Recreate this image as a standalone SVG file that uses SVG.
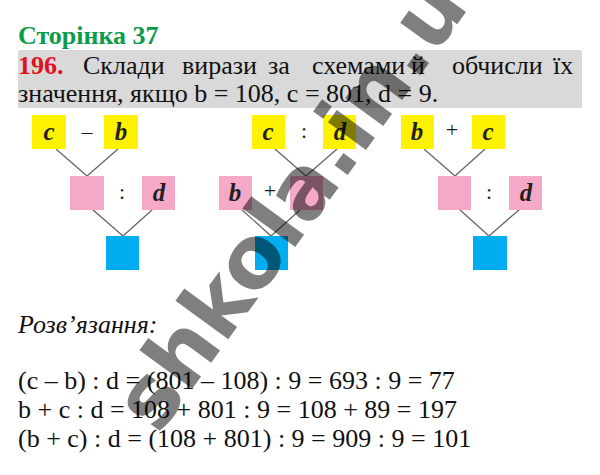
<svg xmlns="http://www.w3.org/2000/svg" width="600" height="475" viewBox="0 0 600 475">
<rect width="600" height="475" fill="#fff"/>
<text x="18" y="44" font-size="26" font-family="Liberation Serif" font-weight="bold" fill="#0c9b4a">Сторінка 37</text>
<rect x="18" y="50" width="564" height="58" fill="#d9d9d9"/>
<text x="18" y="74" font-size="26" font-family="Liberation Serif" font-weight="bold" fill="#e3101e">196.</text>
<text x="83" y="74" font-size="26" font-family="Liberation Serif" fill="#111">Склади</text>
<text x="182" y="74" font-size="26" font-family="Liberation Serif" fill="#111">вирази</text>
<text x="268" y="74" font-size="26" font-family="Liberation Serif" fill="#111">за</text>
<text x="312" y="74" font-size="26" font-family="Liberation Serif" fill="#111">схемами</text>
<text x="411" y="74" font-size="26" font-family="Liberation Serif" fill="#111">й</text>
<text x="452" y="74" font-size="26" font-family="Liberation Serif" fill="#111">обчисли</text>
<text x="553" y="74" font-size="26" font-family="Liberation Serif" fill="#111">їх</text>
<text x="18" y="102" font-size="26" font-family="Liberation Serif" fill="#111">значення, якщо b = 108, c = 801, d = 9.</text>

<g id="connectors" stroke="#666" stroke-width="1.3">
<line x1="56" y1="149" x2="87" y2="176"/><line x1="118" y1="149" x2="87" y2="176"/>
<line x1="92" y1="209" x2="123" y2="236"/><line x1="153" y1="209" x2="123" y2="236"/>
<line x1="275" y1="149" x2="306" y2="176"/><line x1="337" y1="149" x2="306" y2="176"/>
<line x1="241" y1="209" x2="271" y2="236"/><line x1="301" y1="209" x2="271" y2="236"/>
<line x1="424" y1="149" x2="455" y2="176"/><line x1="485" y1="149" x2="455" y2="176"/>
<line x1="459" y1="209" x2="489" y2="236"/><line x1="520" y1="209" x2="489" y2="236"/>
</g>

<g id="d1-c"><rect x="32" y="115" width="34" height="34" fill="#fff200"/><text x="49" y="140" font-size="25" font-family="Liberation Serif" font-style="italic" font-weight="bold" text-anchor="middle" fill="#231f20">c</text></g>
<g id="d1-b"><rect x="104" y="115" width="34" height="34" fill="#fff200"/><text x="121" y="140" font-size="25" font-family="Liberation Serif" font-style="italic" font-weight="bold" text-anchor="middle" fill="#231f20">b</text></g>
<g id="d1-mid"><rect x="70" y="176" width="34" height="34" fill="#f5a9c8"/></g>
<g id="d1-d"><rect x="142" y="176" width="33" height="34" fill="#f5a9c8"/><text x="159" y="201" font-size="25" font-family="Liberation Serif" font-style="italic" font-weight="bold" text-anchor="middle" fill="#231f20">d</text></g>
<g id="d1-res"><rect x="106" y="236" width="33" height="34" fill="#00aeef"/></g>

<g id="d2-c"><rect x="252" y="115" width="33" height="34" fill="#fff200"/><text x="268" y="140" font-size="25" font-family="Liberation Serif" font-style="italic" font-weight="bold" text-anchor="middle" fill="#231f20">c</text></g>
<g id="d2-d"><rect x="323" y="115" width="33" height="34" fill="#fff200"/><text x="340" y="140" font-size="25" font-family="Liberation Serif" font-style="italic" font-weight="bold" text-anchor="middle" fill="#231f20">d</text></g>
<g id="d2-b"><rect x="219" y="176" width="33" height="34" fill="#f5a9c8"/><text x="235" y="201" font-size="25" font-family="Liberation Serif" font-style="italic" font-weight="bold" text-anchor="middle" fill="#231f20">b</text></g>
<g id="d2-mid"><rect x="290" y="176" width="33" height="34" fill="#f5a9c8"/></g>
<g id="d2-res"><rect x="255" y="236" width="33" height="34" fill="#00aeef"/></g>

<g id="d3-b"><rect x="401" y="115" width="33" height="34" fill="#fff200"/><text x="417" y="140" font-size="25" font-family="Liberation Serif" font-style="italic" font-weight="bold" text-anchor="middle" fill="#231f20">b</text></g>
<g id="d3-c"><rect x="472" y="115" width="33" height="34" fill="#fff200"/><text x="488" y="140" font-size="25" font-family="Liberation Serif" font-style="italic" font-weight="bold" text-anchor="middle" fill="#231f20">c</text></g>
<g id="d3-mid"><rect x="438" y="176" width="33" height="34" fill="#f5a9c8"/></g>
<g id="d3-d"><rect x="509" y="176" width="33" height="34" fill="#f5a9c8"/><text x="526" y="201" font-size="25" font-family="Liberation Serif" font-style="italic" font-weight="bold" text-anchor="middle" fill="#231f20">d</text></g>
<g id="d3-res"><rect x="473" y="236" width="34" height="34" fill="#00aeef"/></g>

<text x="87" y="139" font-size="22" font-family="Liberation Serif" text-anchor="middle" fill="#231f20">–</text>
<text x="122" y="199" font-size="22" font-family="Liberation Serif" text-anchor="middle" fill="#231f20">:</text>
<text x="304" y="138" font-size="22" font-family="Liberation Serif" text-anchor="middle" fill="#231f20">:</text>
<text x="270" y="198" font-size="22" font-family="Liberation Serif" text-anchor="middle" fill="#231f20">+</text>
<text x="452" y="137" font-size="22" font-family="Liberation Serif" text-anchor="middle" fill="#231f20">+</text>
<text x="489" y="199" font-size="22" font-family="Liberation Serif" text-anchor="middle" fill="#231f20">:</text>

<text x="18" y="333" font-size="26" font-family="Liberation Serif" font-style="italic" fill="#111">Розв’язання:</text>
<text x="18" y="389" font-size="26" font-family="Liberation Serif" fill="#111">(c – b) : d = (801 – 108) : 9 = 693 : 9 = 77</text>
<text x="18" y="418" font-size="26" font-family="Liberation Serif" fill="#111">b + c : d = 108 + 801 : 9 = 108 + 89 = 197</text>
<text x="18" y="447" font-size="26" font-family="Liberation Serif" fill="#111">(b + c) : d = (108 + 801) : 9 = 909 : 9 = 101</text>
<text transform="translate(158,436) rotate(-54)" font-size="86" font-family="DejaVu Sans" font-weight="bold" fill="#000" fill-opacity="0.5">shkola.in.ua</text>
</svg>
